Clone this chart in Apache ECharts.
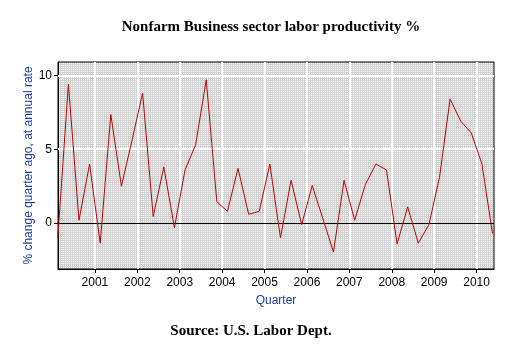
<!DOCTYPE html>
<html>
<head>
<meta charset="utf-8">
<script src="https://cdn.jsdelivr.net/npm/echarts@6/dist/echarts.min.js"></script>
<style>
  html, body { margin: 0; padding: 0; background: #fff; }
  #chart { width: 516px; height: 351px; }
</style>
</head>
<body>
<div id="chart"></div>
<script>
// quarterly labour productivity, 2000 Q1 .. 2010 Q2
const firstYear = 2000;
const productivity = [
  -1.0, 9.4, 0.2, 4.0,
  -1.35, 7.35, 2.5, 5.6,
  8.8, 0.45, 3.8, -0.3,
  3.6, 5.3, 9.7, 1.45,
  0.8, 3.7, 0.6, 0.8,
  4.0, -1.0, 2.9, -0.1,
  2.55, 0.3, -1.95, 2.9,
  0.2, 2.6, 4.0, 3.6,
  -1.4, 1.1, -1.35, -0.1,
  3.1, 8.4, 6.9, 6.1,
  4.0, -0.7
];
const yearTicks = [2001, 2002, 2003, 2004, 2005, 2006, 2007, 2008, 2009, 2010];
const valueTicks = [0, 5, 10];

// points sit in the middle of each quarter
const points = productivity.map((v, i) => [firstYear + (i + 0.5) / 4, v]);

// grey dotted plot background
const tile = document.createElement("canvas");
tile.width = 2;
tile.height = 2;
const tctx = tile.getContext("2d");
tctx.fillStyle = "#d2d2d2";
tctx.fillRect(0, 0, 2, 2);
tctx.fillStyle = "#ffffff";
tctx.fillRect(1, 1, 1, 1);

// white grid lines at the labelled ticks
const gridLines = yearTicks.map(y => ({ xAxis: y }))
  .concat(valueTicks.filter(v => v !== 0).map(v => ({ yAxis: v })));

const blue = "#1a3c9c";
const chart = echarts.init(document.getElementById("chart"));
chart.setOption({
  animation: false,
  backgroundColor: "#ffffff",
  title: [
    {
      text: "Nonfarm Business sector labor productivity %",
      left: 266, top: 15, textAlign: "center",
      textStyle: { fontFamily: "Liberation Serif", fontWeight: "bold", fontSize: 15, color: "#000" }
    },
    {
      text: "Source: U.S. Labor Dept.",
      left: 246, top: 319, textAlign: "center",
      textStyle: { fontFamily: "Liberation Serif", fontWeight: "bold", fontSize: 15, color: "#000" }
    }
  ],
  grid: {
    left: 58, right: 22, top: 62, bottom: 82,
    show: true,
    backgroundColor: { image: tile, repeat: "repeat" },
    borderColor: "#000",
    borderWidth: 1
  },
  xAxis: {
    type: "value",
    min: 2000.13,
    max: 2010.41,
    name: "Quarter",
    nameLocation: "middle",
    nameGap: 26,
    nameTextStyle: { color: blue, fontFamily: "Liberation Sans", fontSize: 12 },
    axisLine: { show: true, onZero: false, lineStyle: { color: "#000" } },
    axisTick: { show: true, length: 4, customValues: yearTicks, lineStyle: { color: "#000" } },
    axisLabel: {
      customValues: yearTicks, margin: 8,
      color: "#000", fontFamily: "Liberation Sans", fontSize: 12,
      formatter: v => String(Math.round(v))
    },
    splitLine: { show: false }
  },
  yAxis: {
    type: "value",
    min: -3.1,
    max: 10.9,
    name: "% change quarter ago, at annual rate",
    nameLocation: "middle",
    nameGap: 23,
    nameMoveOverlap: false,
    nameTextStyle: { color: blue, fontFamily: "Liberation Sans", fontSize: 12 },
    axisLine: { show: true, lineStyle: { color: "#000" } },
    axisTick: { show: true, length: 4, customValues: valueTicks, lineStyle: { color: "#000" } },
    axisLabel: {
      customValues: valueTicks, margin: 6,
      color: "#000", fontFamily: "Liberation Sans", fontSize: 12
    },
    splitLine: { show: false }
  },
  series: [
    {
      type: "line",
      data: [],
      silent: true,
      z: 1,
      markLine: {
        silent: true,
        symbol: "none",
        z: 1,
        label: { show: false },
        lineStyle: { color: "#ffffff", type: "solid", width: 2 },
        data: gridLines
      }
    },
    {
      type: "line",
      data: points,
      showSymbol: false,
      lineStyle: { color: "#c00000", width: 1 },
      markLine: {
        silent: true,
        symbol: "none",
        z: 2,
        label: { show: false },
        lineStyle: { color: "#000", type: "solid", width: 1 },
        data: [{ yAxis: 0 }]
      },
      z: 10
    }
  ]
});
</script>
</body>
</html>
